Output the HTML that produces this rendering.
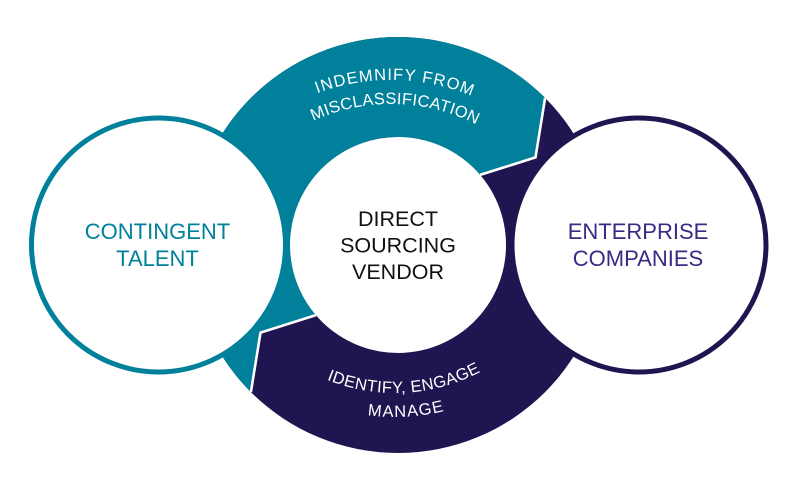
<!DOCTYPE html>
<html>
<head>
<meta charset="utf-8">
<style>
  html, body { margin: 0; padding: 0; background: #ffffff; }
  body { width: 798px; height: 480px; overflow: hidden; }
  svg { display: block; }
  text { font-family: "Liberation Sans", Arial, sans-serif; }
</style>
</head>
<body>
<svg width="798" height="480" viewBox="0 0 798 480" xmlns="http://www.w3.org/2000/svg">
  <defs>
    <path id="t1" d="M 179 292 A 212 212 0 0 1 603 292"/>
    <path id="t2" d="M 203 292 A 188 188 0 0 1 579 292"/>
    <path id="b1" d="M 212 210 A 183 183 0 0 0 578 210"/>
    <path id="b2" d="M 188 210 A 207 207 0 0 0 602 210"/>
  </defs>

  <rect width="798" height="480" fill="#ffffff"/>

  <!-- ring base (navy) -->
  <circle cx="398" cy="245" r="208" fill="#201550"/>

  <!-- teal upper segment -->
  <path d="M 250.9 392.1
           A 208 208 0 0 1 250.9 97.9
           A 208 208 0 0 1 545.1 97.9
           L 535.5 157.4
           L 480.1 174.9
           A 108 108 0 0 0 327.9 162.9
           A 108 108 0 0 0 315.9 315.1
           L 260.5 332.6 Z" fill="#00809A"/>

  <!-- white separators -->
  <polyline points="545.1,97.9 535.5,157.4 480.1,174.9" fill="none" stroke="#ffffff" stroke-width="2.6" stroke-linejoin="miter"/>
  <polyline points="250.9,392.1 260.5,332.6 315.9,315.1" fill="none" stroke="#ffffff" stroke-width="2.6" stroke-linejoin="miter"/>

  <!-- center circle -->
  <circle cx="398" cy="245" r="108" fill="#ffffff"/>

  <!-- side circles -->
  <circle cx="158.5" cy="245" r="127" fill="#ffffff" stroke="#00809A" stroke-width="5"/>
  <circle cx="639" cy="245" r="127" fill="#ffffff" stroke="#201550" stroke-width="5"/>

  <!-- curved labels -->
  <text font-size="16.5" fill="#ffffff" letter-spacing="1.1" text-anchor="middle">
    <textPath href="#t1" startOffset="337">INDEMNIFY FROM</textPath>
  </text>
  <text font-size="16.5" fill="#ffffff" letter-spacing="0.3" text-anchor="middle">
    <textPath href="#t2" startOffset="299.5">MISCLASSIFICATION</textPath>
  </text>
  <text font-size="16.5" fill="#ffffff" letter-spacing="0.4" text-anchor="middle">
    <textPath href="#b1" startOffset="297">IDENTIFY, ENGAGE</textPath>
  </text>
  <text font-size="16.5" fill="#ffffff" letter-spacing="1.1" text-anchor="middle">
    <textPath href="#b2" startOffset="336.5">MANAGE</textPath>
  </text>

  <!-- center text -->
  <g font-size="21.5" fill="#111111" text-anchor="middle">
    <text x="398" y="226">DIRECT</text>
    <text x="398" y="252.5">SOURCING</text>
    <text x="398" y="279">VENDOR</text>
  </g>

  <!-- side text -->
  <g font-size="22" fill="#00809A" text-anchor="middle">
    <text x="157.5" y="239">CONTINGENT</text>
    <text x="157.5" y="266">TALENT</text>
  </g>
  <g font-size="22" fill="#3A2A85" text-anchor="middle">
    <text x="638" y="239">ENTERPRISE</text>
    <text x="638" y="266">COMPANIES</text>
  </g>
</svg>
</body>
</html>
